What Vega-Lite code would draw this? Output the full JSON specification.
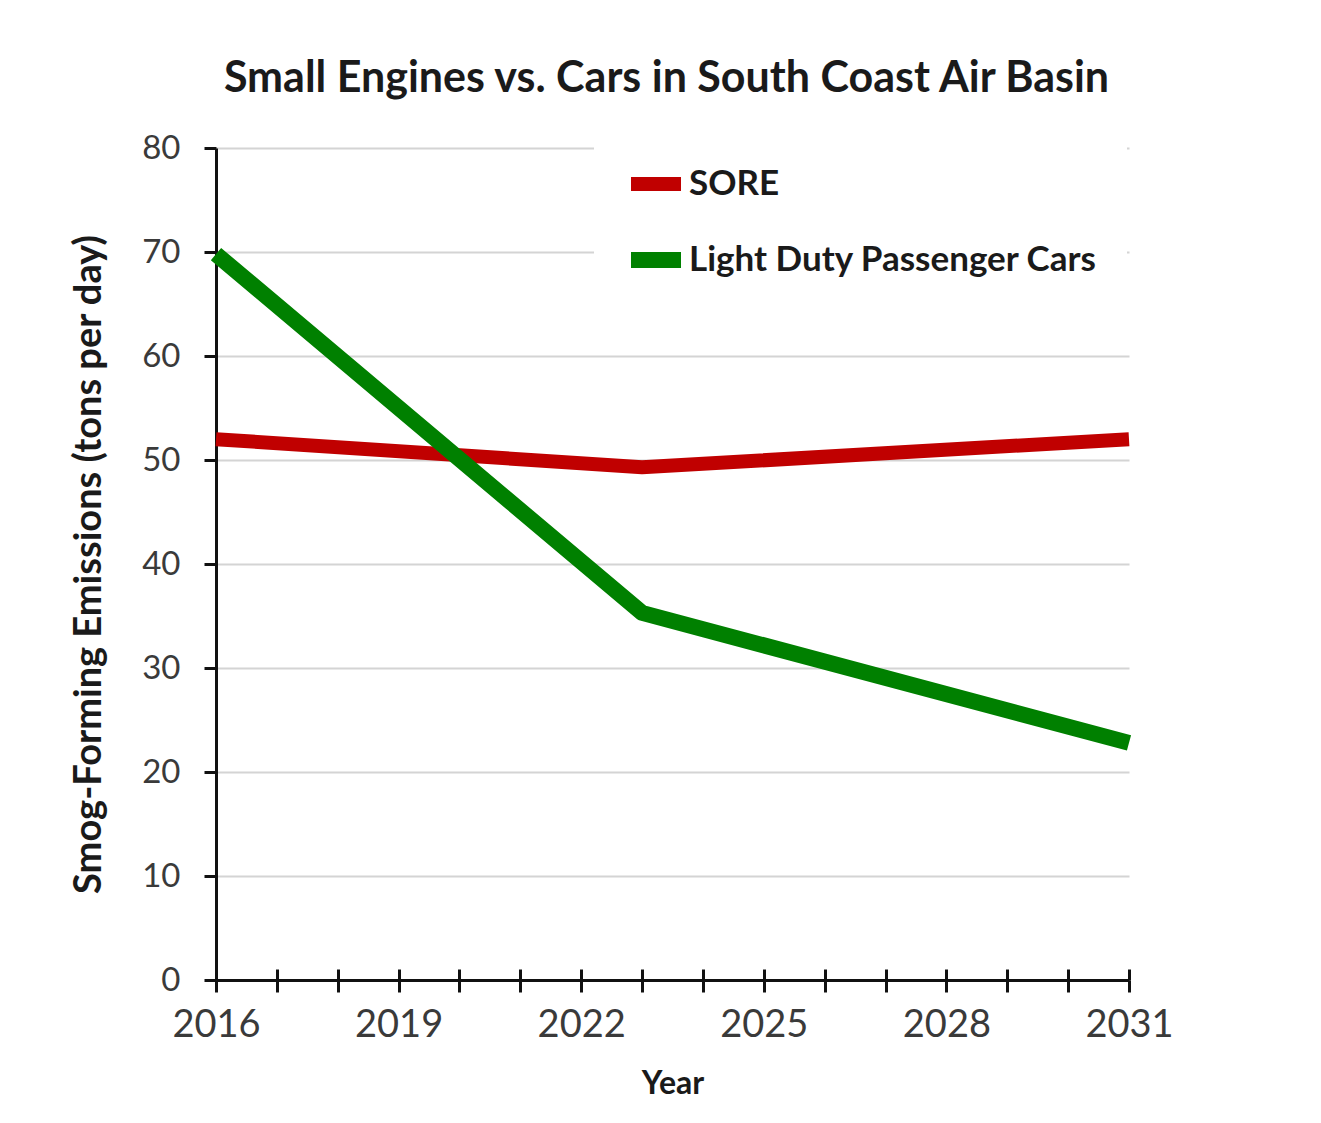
{
  "$schema": "https://vega.github.io/schema/vega-lite/v6.json",
  "autosize": {"type": "none"},
  "width": 913,
  "height": 832,
  "padding": {"left": 216, "top": 148, "right": 192, "bottom": 143},
  "background": "white",
  "title": {
    "text": "Small Engines vs. Cars in South Coast Air Basin",
    "font": "Lato",
    "fontSize": 43,
    "fontWeight": "bold",
    "color": "#1a1a1a",
    "anchor": "middle",
    "offset": 22,
    "dx": -6
  },
  "data": {
    "values": [
      {"year": 2016, "series": "SORE", "value": 52.0},
      {"year": 2023, "series": "SORE", "value": 49.3},
      {"year": 2031, "series": "SORE", "value": 52.0},
      {"year": 2016, "series": "Light Duty Passenger Cars", "value": 69.8},
      {"year": 2023, "series": "Light Duty Passenger Cars", "value": 35.3},
      {"year": 2031, "series": "Light Duty Passenger Cars", "value": 22.8}
    ]
  },
  "resolve": {"axis": {"x": "independent"}},
  "layer": [
    {
      "mark": {"type": "line", "strokeCap": "butt", "strokeJoin": "round"},
      "encoding": {
        "x": {
          "field": "year",
          "type": "quantitative",
          "scale": {"domain": [2016, 2031], "nice": false, "zero": false},
          "axis": {
            "orient": "bottom",
            "title": "Year",
            "values": [2016, 2017, 2018, 2019, 2020, 2021, 2022, 2023, 2024, 2025, 2026, 2027, 2028, 2029, 2030, 2031],
            "format": "d",
            "labelExpr": "datum.value % 3 == 0 ? datum.label : ''",
            "labelFlush": false,
            "labelOverlap": false,
            "labelBound": false,
            "grid": false,
            "domainColor": "#111111",
            "domainWidth": 3,
            "tickColor": "#111111",
            "tickWidth": 3,
            "tickSize": 12,
            "labelFont": "Lato",
            "labelFontSize": 38,
            "labelColor": "#3a3a3a",
            "labelPadding": 14,
            "titleFont": "Lato",
            "titleFontSize": 32,
            "titleFontWeight": "bold",
            "titleColor": "#1a1a1a",
            "titlePadding": 24
          }
        },
        "y": {
          "field": "value",
          "type": "quantitative",
          "scale": {"domain": [0, 80], "nice": false},
          "axis": {
            "title": "Smog-Forming Emissions (tons per day)",
            "values": [0, 10, 20, 30, 40, 50, 60, 70, 80],
            "grid": true,
            "gridColor": "#d4d4d4",
            "gridWidth": 2,
            "domainColor": "#111111",
            "domainWidth": 3,
            "tickColor": "#111111",
            "tickWidth": 3,
            "tickSize": 12,
            "labelFont": "Lato",
            "labelFontSize": 33,
            "labelColor": "#3a3a3a",
            "labelPadding": 24,
            "titleFont": "Lato",
            "titleFontSize": 38,
            "titleFontWeight": "bold",
            "titleColor": "#1a1a1a",
            "titlePadding": 33
          }
        },
        "color": {
          "field": "series",
          "type": "nominal",
          "scale": {"domain": ["SORE", "Light Duty Passenger Cars"], "range": ["#c00000", "#008000"]},
          "legend": {
            "title": null,
            "orient": "none",
            "legendX": 378,
            "legendY": -25,
            "fillColor": "white",
            "padding": 29,
            "symbolType": "stroke",
            "symbolSize": 2500,
            "symbolStrokeWidth": 13,
            "labelFont": "Lato",
            "labelFontSize": 35,
            "labelFontWeight": "bold",
            "labelColor": "#1a1a1a",
            "labelOffset": 0,
            "rowPadding": 15,
            "labelLimit": 600
          }
        },
        "strokeWidth": {
          "field": "series",
          "type": "nominal",
          "scale": {"domain": ["SORE", "Light Duty Passenger Cars"], "range": [14, 16]},
          "legend": null
        }
      }
    },
    {
      "mark": {"type": "line", "opacity": 0},
      "encoding": {
        "x": {
          "field": "year",
          "type": "quantitative",
          "axis": {
            "orient": "bottom",
            "title": null,
            "values": [2016, 2017, 2018, 2019, 2020, 2021, 2022, 2023, 2024, 2025, 2026, 2027, 2028, 2029, 2030, 2031],
            "labels": false,
            "domain": false,
            "grid": false,
            "tickColor": "#111111",
            "tickWidth": 3,
            "tickSize": -11
          }
        },
        "y": {"field": "value", "type": "quantitative"},
        "detail": {"field": "series", "type": "nominal"}
      }
    }
  ],
  "config": {"view": {"stroke": null}}
}
